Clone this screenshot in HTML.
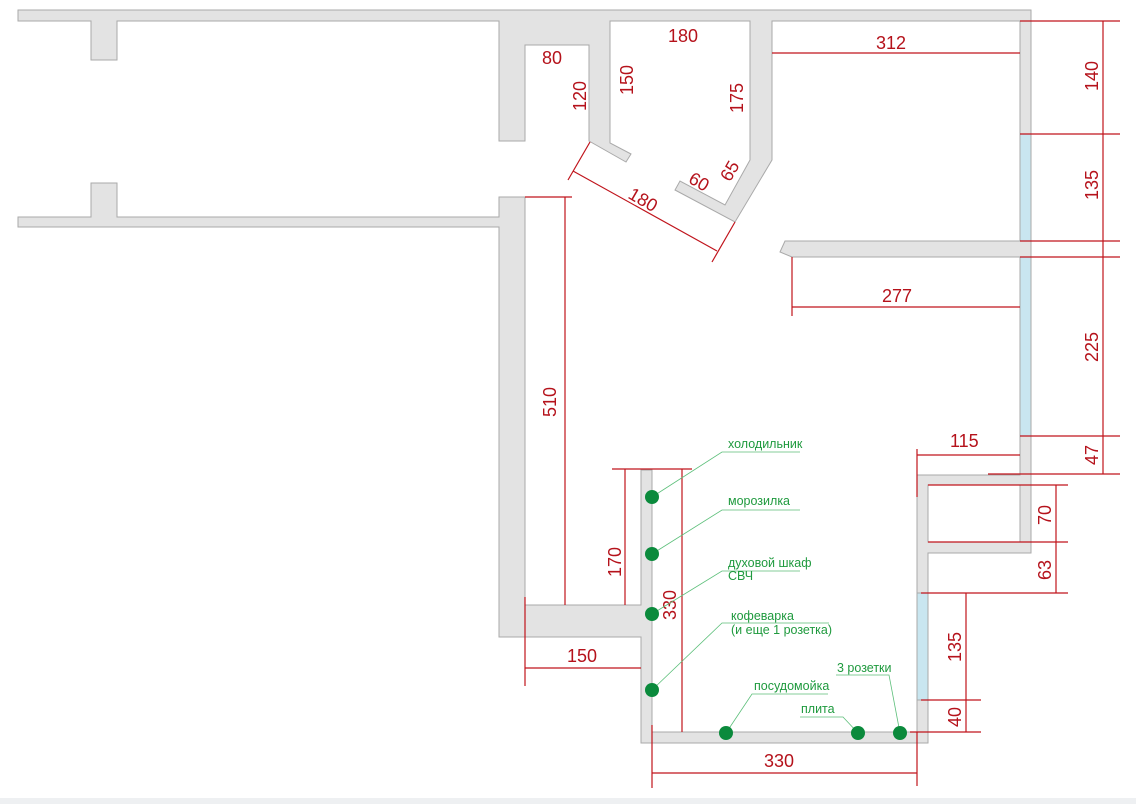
<!DOCTYPE html>
<html><head><meta charset="utf-8"><style>
html,body{margin:0;padding:0;background:#fff;}
svg{display:block;}
.w{fill:#e3e3e3;stroke:#a9a9a9;stroke-width:1;}
.win{fill:#c9e6f0;stroke:#a9a9a9;stroke-width:1;}
.d{stroke:#c0141c;stroke-width:1.2;fill:none;}
.t{fill:#b5121b;font-family:"Liberation Sans",sans-serif;font-size:18px;}
.g{fill:#1f9a3e;font-family:"Liberation Sans","DejaVu Sans",sans-serif;font-size:12.5px;}
.gl{stroke:#5cbf7a;stroke-width:0.8;fill:none;}
.dot{fill:#0b8a3c;}
</style></head><body>
<svg width="1136" height="804" viewBox="0 0 1136 804" xmlns="http://www.w3.org/2000/svg">
<rect x="0" y="798" width="1136" height="6" fill="#eef0f2"/>
<!-- top wall -->
<polygon class="w" points="18,10 1031,10 1031,21 772,21 772,160 735,222 675,190 680,181 725,205 750,160 750,21 610,21 610,143 631,154 626,162 589,141 589,45 525,45 525,141 499,141 499,21 117,21 117,60 91,60 91,21 18,21"/>
<!-- lower left wall -->
<polygon class="w" points="18,217 91,217 91,183 117,183 117,217 499,217 499,197 525,197 525,605 641,605 641,470 652,470 652,732 917,732 917,700 928,700 928,743 641,743 641,637 499,637 499,227 18,227"/>
<!-- right wall -->
<rect class="w" x="1020" y="21" width="11" height="113"/>
<rect class="win" x="1020" y="134" width="11" height="107"/>
<polygon class="w" points="785,241 1031,241 1031,257 792,257 780,252"/>
<rect class="win" x="1020" y="257" width="11" height="179"/>
<polygon class="w" points="1020,436 1031,436 1031,553 928,553 928,593 917,593 917,475 1020,475"/>
<polygon fill="#fff" stroke="#a9a9a9" points="928,485 1020,485 1020,542 928,542"/>
<rect class="win" x="917" y="593" width="11" height="107"/>
<!-- dims -->
<g class="d">
<path d="M568,180 L590,142 M712,262 L735,222 M573,171 L717,251"/>
<path d="M772,53 H1020"/>
<path d="M1020,21 H1120 M1020,134 H1120 M1020,241 H1120 M1020,257 H1120 M1020,436 H1120 M988,474 H1120 M1103,21 V474"/>
<path d="M792,257 V316 M792,307 H1020"/>
<path d="M917,449 V497 M917,455 H1020"/>
<path d="M928,485 H1068 M928,542 H1068 M921,593 H1068 M1056,485 V593"/>
<path d="M921,700 H981 M910,732 H981 M966,593 V732"/>
<path d="M652,725 V788 M917,732 V786 M652,773 H917"/>
<path d="M612,469 H692 M682,469 V732 M625,469 V605"/>
<path d="M525,197 H572 M565,197 V605"/>
<path d="M525,597 V686 M525,668 H641"/>
</g>
<g class="t">
<text x="542" y="64">80</text>
<text x="668" y="42">180</text>
<text x="876" y="49">312</text>
<text x="882" y="302">277</text>
<text x="950" y="447">115</text>
<text x="567" y="662">150</text>
<text x="764" y="767">330</text>
<text transform="translate(586,96) rotate(-90)" text-anchor="middle">120</text>
<text transform="translate(633,80) rotate(-90)" text-anchor="middle">150</text>
<text transform="translate(743,98) rotate(-90)" text-anchor="middle">175</text>
<text transform="translate(696,187) rotate(30)" text-anchor="middle">60</text>
<text transform="translate(735,174) rotate(-60)" text-anchor="middle">65</text>
<text transform="translate(640,205) rotate(30)" text-anchor="middle">180</text>
<text transform="translate(1098,76) rotate(-90)" text-anchor="middle">140</text>
<text transform="translate(1098,185) rotate(-90)" text-anchor="middle">135</text>
<text transform="translate(1098,347) rotate(-90)" text-anchor="middle">225</text>
<text transform="translate(1098,455) rotate(-90)" text-anchor="middle">47</text>
<text transform="translate(1051,515) rotate(-90)" text-anchor="middle">70</text>
<text transform="translate(1051,570) rotate(-90)" text-anchor="middle">63</text>
<text transform="translate(961,647) rotate(-90)" text-anchor="middle">135</text>
<text transform="translate(961,717) rotate(-90)" text-anchor="middle">40</text>
<text transform="translate(676,605) rotate(-90)" text-anchor="middle">330</text>
<text transform="translate(621,562) rotate(-90)" text-anchor="middle">170</text>
<text transform="translate(556,402) rotate(-90)" text-anchor="middle">510</text>
</g>
<!-- labels -->
<g class="gl">
<path d="M652,497 L722,452 H800"/>
<path d="M652,554 L722,510 H800"/>
<path d="M652,614 L722,571 H800"/>
<path d="M652,690 L722,623 H829"/>
<path d="M726,733 L752,694 H828"/>
<path d="M858,733 L843,717 H800"/>
<path d="M900,733 L889,675 H836"/>
</g>
<g class="dot">
<circle cx="652" cy="497" r="7"/><circle cx="652" cy="554" r="7"/><circle cx="652" cy="614" r="7"/><circle cx="652" cy="690" r="7"/>
<circle cx="726" cy="733" r="7"/><circle cx="858" cy="733" r="7"/><circle cx="900" cy="733" r="7"/>
</g>
<g class="g">
<text x="728" y="448">холодильник</text>
<text x="728" y="505">морозилка</text>
<text x="728" y="567">духовой шкаф</text>
<text x="728" y="580">СВЧ</text>
<text x="731" y="620">кофеварка</text>
<text x="731" y="634">(и еще 1 розетка)</text>
<text x="754" y="690">посудомойка</text>
<text x="801" y="713">плита</text>
<text x="837" y="672">3 розетки</text>
</g>
</svg>
</body></html>
